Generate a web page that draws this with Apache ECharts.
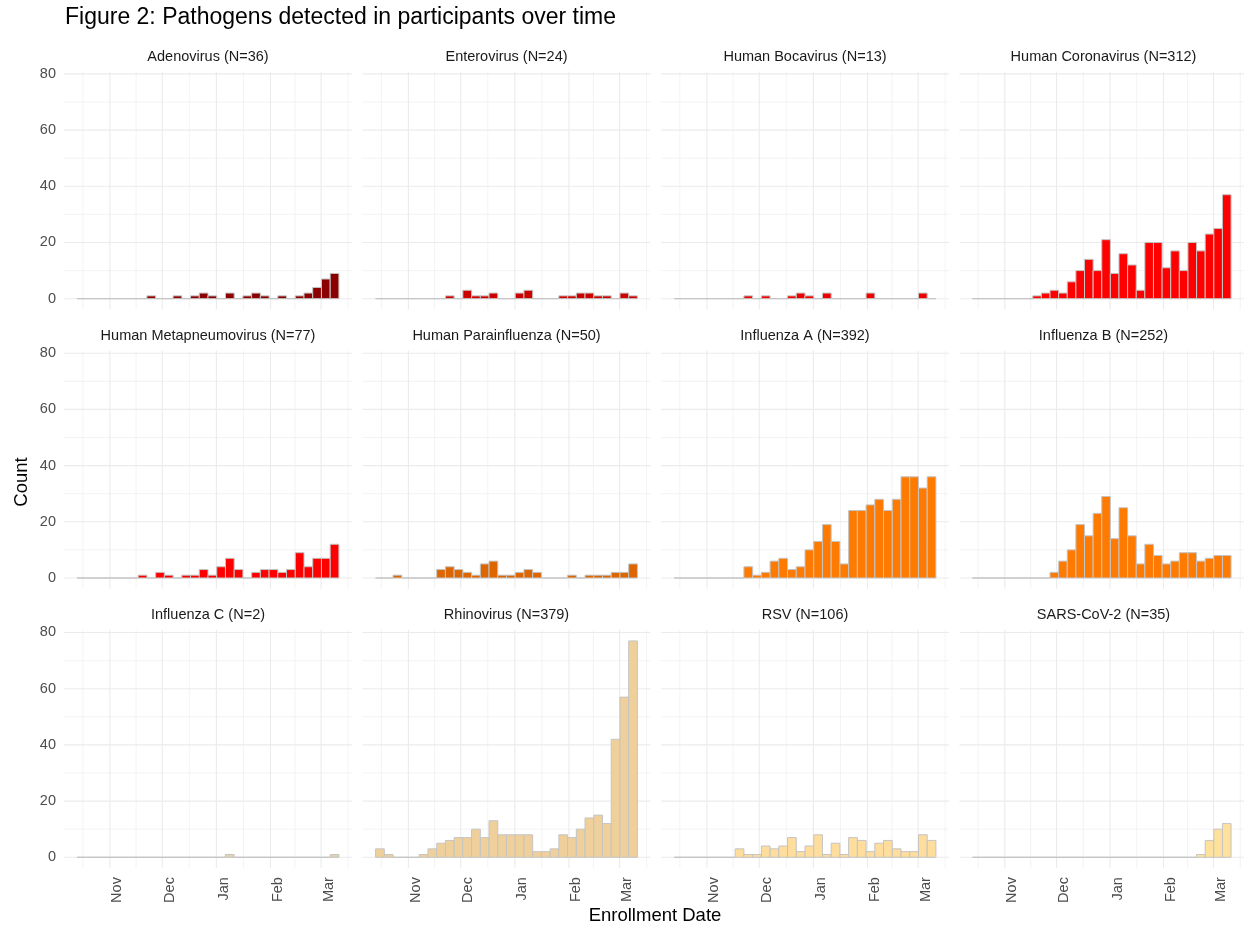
<!DOCTYPE html>
<html><head><meta charset="utf-8">
<script src="https://cdn.jsdelivr.net/npm/echarts@6/dist/echarts.min.js"></script>
<style>html,body{margin:0;padding:0;background:#fff}#c{width:1244px;height:932px}</style>
</head><body><div id="c"></div>
<script>
// ---------- data ----------
const pathogens = ['Adenovirus','Enterovirus','Human Bocavirus','Human Coronavirus',
  'Human Metapneumovirus','Human Parainfluenza','Influenza A','Influenza B',
  'Influenza C','Rhinovirus','RSV','SARS-CoV-2'];
const totals = [36,24,13,312,77,50,392,252,2,379,106,35];

// counts per 5-day bin (30 bins)
const adenovirus  = [0,0,0,0,0,0,0,0,1,0, 0,1,0,1,2,1,0,2,0,1, 2,1,0,1,0,1,2,4,7,9];
const enterovirus = [0,0,0,0,0,0,0,0,1,0, 3,1,1,2,0,0,2,3,0,0, 0,1,1,2,2,1,1,0,2,1];
const bocavirus   = [0,0,0,0,0,0,0,0,1,0, 1,0,0,1,2,1,0,2,0,0, 0,0,2,0,0,0,0,0,2,0];
const coronavirus = [0,0,0,0,0,0,0,1,2,3, 2,6,10,14,10,21,9,16,12,3, 20,20,11,17,10,20,17,23,25,37];
const metapneumo  = [0,0,0,0,0,0,0,1,0,2, 1,0,1,1,3,1,4,7,3,0, 2,3,3,2,3,9,4,7,7,12];
const parainflu   = [0,0,1,0,0,0,0,3,4,3, 2,1,5,6,1,1,2,3,2,0, 0,0,1,0,1,1,1,2,2,5];
const influenzaA  = [0,0,0,0,0,0,0,0,4,1, 2,6,7,3,4,10,13,19,13,5, 24,24,26,28,24,28,36,36,32,36];
const influenzaB  = [0,0,0,0,0,0,0,0,0,2, 6,10,19,15,23,29,14,25,15,5, 12,8,5,6,9,9,6,7,8,8];
const influenzaC  = [0,0,0,0,0,0,0,0,0,0, 0,0,0,0,0,0,0,1,0,0, 0,0,0,0,0,0,0,0,0,1];
const rhinovirus  = [3,1,0,0,0,1,3,5,6,7, 7,10,7,13,8,8,8,8,2,2, 3,8,7,10,14,15,12,42,57,77];
const rsv         = [0,0,0,0,0,0,0,3,1,1, 4,3,4,7,2,4,8,1,5,1, 7,6,2,5,6,3,2,2,8,6];
const sarscov2    = [0,0,0,0,0,0,0,0,0,0, 0,0,0,0,0,0,0,0,0,0, 0,0,0,0,0,0,1,6,10,12];
const seriesCounts = [adenovirus,enterovirus,bocavirus,coronavirus,metapneumo,parainflu,
  influenzaA,influenzaB,influenzaC,rhinovirus,rsv,sarscov2];

const binStartDate = [2019,9,13,5];   // first bin start (local time)
const binDays = 5;
const monthTickLabels = ['Nov','Dec','Jan','Feb','Mar'];
const monthTickDates = [[2019,10,1],[2019,11,1],[2020,0,1],[2020,1,1],[2020,2,1]];
const minorGridDates = [[2019,9,16,12],[2019,10,16],[2019,11,16,12],[2020,0,16,12],[2020,1,15],[2020,2,16,12]];
const yTickValues = [0,20,40,60,80];
const yMinorValues = [10,30,50,70];

// ---------- styles ----------
const fillColors = ['#8B0000','#CD0000','#EE0000','#FF0000','#FF0000','#DD6600',
  '#FF7A00','#FF7A00','#E3D3B0','#F0D09A','#FFDD9C','#FFE19E'];
const FONT = 'Liberation Sans, Arial, Helvetica, sans-serif';
const DAY = 86400000;
const toTs = a => new Date(a[0], a[1], a[2], a[3] || 0).getTime();
const bin0 = toTs(binStartDate);
const nBins = 30;
const xMin = bin0 - 0.05 * nBins * binDays * DAY;
const xMax = bin0 + nBins * binDays * DAY + 0.05 * nBins * binDays * DAY;
const maxCount = Math.max(...seriesCounts.map(a => Math.max(...a)));
const yMin = -0.05 * maxCount, yMax = 1.05 * maxCount;

const colLeft = [64, 362.5, 661, 959.5];
const rowTop = [71.5, 350.8, 630.1];
const panelW = 288, panelH = 238;

const grids = [], xAxes = [], yAxes = [], series = [], graphics = [];
const majorTs = monthTickDates.map(toTs);
const vGridData = majorTs.map(t => [t, 1]).concat(minorGridDates.map(a => [toTs(a), 0]));
const hGridData = yTickValues.map(v => [xMin, v, 1]).concat(yMinorValues.map(v => [xMin, v, 0]));

function monthLabel(v) {
  let best = -1, bd = Infinity;
  majorTs.forEach((t, j) => { const d = Math.abs(t - v); if (d < bd) { bd = d; best = j; } });
  return bd < DAY ? monthTickLabels[best] : '';
}

for (let i = 0; i < 12; i++) {
  const r = Math.floor(i / 4), c = i % 4;
  grids.push({left: colLeft[c], top: rowTop[r], width: panelW, height: panelH, containLabel: false});
  xAxes.push({
    type: 'value', gridIndex: i, min: xMin, max: xMax, scale: true,
    axisLine: {show: false}, axisTick: {show: false}, splitLine: {show: false},
    axisLabel: {
      show: r === 2, customValues: majorTs, rotate: 90, margin: 9,
      fontSize: 14.5, color: '#4D4D4D', fontFamily: FONT, verticalAlign: 'top',
      formatter: monthLabel
    }
  });
  yAxes.push({
    type: 'value', gridIndex: i, min: yMin, max: yMax,
    axisLine: {show: false}, axisTick: {show: false}, splitLine: {show: false},
    axisLabel: {show: c === 0, customValues: yTickValues, margin: 8, fontSize: 14.5,
      color: '#4D4D4D', fontFamily: FONT}
  });
  // gridlines
  series.push({
    type: 'custom', xAxisIndex: i, yAxisIndex: i, z: 1, silent: true,
    data: vGridData,
    renderItem: (params, api) => {
      const cs = params.coordSys;
      const x = api.coord([api.value(0), 0])[0];
      return {type: 'line', shape: {x1: x, y1: cs.y, x2: x, y2: cs.y + cs.height},
        style: {stroke: '#EBEBEB', lineWidth: api.value(1) ? 1.1 : 0.6}};
    }
  });
  series.push({
    type: 'custom', xAxisIndex: i, yAxisIndex: i, z: 1, silent: true,
    data: hGridData,
    renderItem: (params, api) => {
      const cs = params.coordSys;
      const y = api.coord([api.value(0), api.value(1)])[1];
      return {type: 'line', shape: {x1: cs.x, y1: y, x2: cs.x + cs.width, y2: y},
        style: {stroke: '#EBEBEB', lineWidth: api.value(2) ? 1.1 : 0.6}};
    }
  });
  // histogram bars
  const data = seriesCounts[i].map((v, k) => [bin0 + k * binDays * DAY, bin0 + (k + 1) * binDays * DAY, v]);
  series.push({
    type: 'custom', xAxisIndex: i, yAxisIndex: i, z: 2,
    encode: {x: [0, 1], y: 2},
    data,
    renderItem: (params, api) => {
      const p0 = api.coord([api.value(0), 0]);
      const p1 = api.coord([api.value(1), api.value(2)]);
      return {type: 'rect',
        shape: {x: p0[0], y: p1[1], width: p1[0] - p0[0], height: p0[1] - p1[1]},
        style: {fill: fillColors[i], stroke: '#C4C4C4', lineWidth: 1}};
    }
  });
  graphics.push({type: 'text', x: colLeft[c] + panelW / 2, y: rowTop[r] - 15,
    style: {text: pathogens[i] + ' (N=' + totals[i] + ')', fontSize: 14.5, fontFamily: FONT,
      fill: '#1A1A1A', align: 'center', verticalAlign: 'middle'}});
}
graphics.push({type: 'text', x: 65, y: 18,
  style: {text: 'Figure 2: Pathogens detected in participants over time', fontSize: 23,
    fontFamily: FONT, fill: '#000', align: 'left', verticalAlign: 'middle'}});
graphics.push({type: 'text', x: 22, y: 482, rotation: Math.PI / 2,
  style: {text: 'Count', fontSize: 18.5, fontFamily: FONT, fill: '#000', align: 'center', verticalAlign: 'middle'}});
graphics.push({type: 'text', x: 655, y: 916,
  style: {text: 'Enrollment Date', fontSize: 18.5, fontFamily: FONT, fill: '#000', align: 'center', verticalAlign: 'middle'}});

const chart = echarts.init(document.getElementById('c'), null, {renderer: 'canvas'});
chart.setOption({
  animation: false, backgroundColor: '#fff',
  grid: grids, xAxis: xAxes, yAxis: yAxes, series, graphic: graphics
});
</script></body></html>
